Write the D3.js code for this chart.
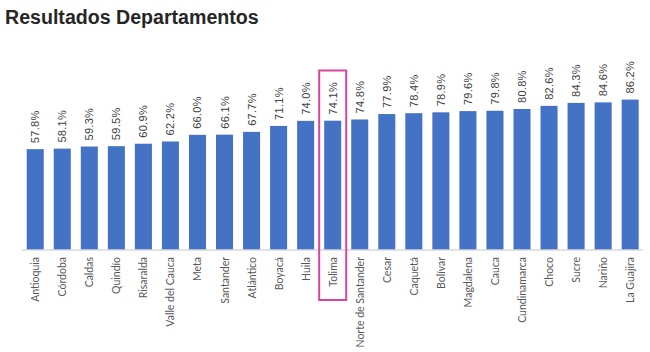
<!DOCTYPE html>
<html>
<head>
<meta charset="utf-8">
<script src="https://cdn.jsdelivr.net/npm/d3@7"></script>
<style>
  body { margin: 0; background: #fff; }
  .title { font-family: "Liberation Sans", Arial, sans-serif; font-weight: bold; font-size: 19.6px; fill: #262626; }
  .val { font-family: "Liberation Sans", Arial, sans-serif; font-size: 11px; fill: #404040; letter-spacing: 0.3px; }
  .cat text { font-family: Lato, "Open Sans", sans-serif; font-size: 10.5px; fill: #595959; }
</style>
</head>
<body>
<script>
// data
var departamentos = ["Antioquia", "Córdoba", "Caldas", "Quindío", "Risaralda", "Valle del Cauca",
  "Meta", "Santander", "Atlántico", "Boyacá", "Huila", "Tolima", "Norte de Santander", "Cesar",
  "Caquetá", "Bolívar", "Magdalena", "Cauca", "Cundinamarca", "Choco", "Sucre", "Nariño", "La Guajira"];
var resultados = [57.8, 58.1, 59.3, 59.5, 60.9, 62.2, 66.0, 66.1, 67.7, 71.1, 74.0, 74.1, 74.8, 77.9,
  78.4, 78.9, 79.6, 79.8, 80.8, 82.6, 84.3, 84.6, 86.2];
var resaltado = "Tolima";

var data = departamentos.map(function(d, i) { return {dep: d, val: resultados[i]}; });

var W = 650, H = 352;
var left = 22, right = 643, base = 250;

var svg = d3.select("body").append("svg")
    .attr("width", W)
    .attr("height", H);

svg.append("text")
    .attr("class", "title")
    .attr("x", 5)
    .attr("y", 24)
    .text("Resultados Departamentos");

var x = d3.scaleBand()
    .domain(departamentos)
    .range([24, 641.4])
    .paddingInner(0.37)
    .paddingOuter(0.1);

var y = d3.scaleLinear()
    .domain([0, 100])
    .range([base, 75.5]);

// bars
svg.selectAll(".bar")
    .data(data)
  .enter().append("rect")
    .attr("class", "bar")
    .attr("x", function(d) { return x(d.dep); })
    .attr("width", x.bandwidth())
    .attr("y", function(d) { return y(d.val); })
    .attr("height", function(d) { return base - y(d.val); })
    .style("fill", "#4472c4");

// value labels (rotated)
svg.selectAll(".val")
    .data(data)
  .enter().append("text")
    .attr("class", "val")
    .attr("transform", function(d) {
      return "translate(" + (x(d.dep) + x.bandwidth() / 2 + 4) + "," + (y(d.val) - 6) + ") rotate(-90)";
    })
    .text(function(d) { return d.val.toFixed(1) + "%"; });

// category axis
var xAxis = d3.axisBottom(x).tickSize(0).tickPadding(0);
var gx = svg.append("g")
    .attr("class", "cat")
    .attr("transform", "translate(0," + base + ")")
    .call(xAxis);
gx.select(".domain")
    .attr("d", "M" + left + ",0H" + right)
    .style("stroke", "#d9d9d9")
    .style("stroke-width", 1.5);
gx.selectAll("text")
    .style("text-anchor", "end")
    .attr("dy", null)
    .attr("y", 0)
    .attr("transform", "translate(4,7) rotate(-90)");

// highlight box
var hx = x(resaltado);
svg.append("rect")
    .attr("x", hx - 5)
    .attr("y", 70.5)
    .attr("width", x.bandwidth() + 10)
    .attr("height", 229.5)
    .style("fill", "none")
    .style("stroke", "#d9449e")
    .style("stroke-width", 2);
</script>
</body>
</html>
